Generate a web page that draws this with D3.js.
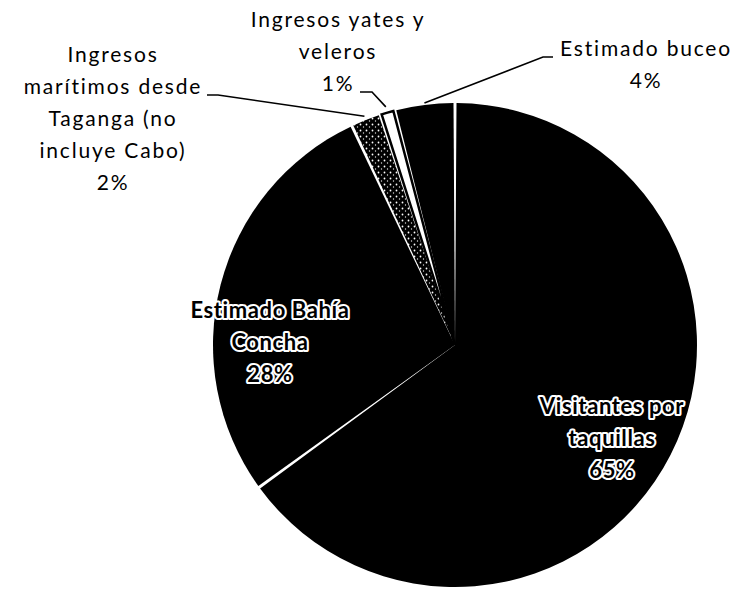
<!DOCTYPE html>
<html><head><meta charset="utf-8">
<script src="https://cdn.jsdelivr.net/npm/d3@7"></script>
<style>body{margin:0;background:#fff}svg{display:block}</style>
</head><body>
<svg id="c" width="749" height="589"></svg>
<script>
const categories = ["Visitantes por taquillas", "Estimado Bahía Concha", "Ingresos marítimos desde Taganga (no incluye Cabo)", "Ingresos yates y veleros", "Estimado buceo"];
const values = [65, 28, 2, 1, 4];
const percentLabels = ["65%", "28%", "2%", "1%", "4%"];
const labelLines = [
  ["Visitantes por", "taquillas", "65%"],
  ["Estimado Bahía", "Concha", "28%"],
  ["Ingresos", "marítimos desde", "Taganga (no", "incluye Cabo)", "2%"],
  ["Ingresos yates y", "veleros", "1%"],
  ["Estimado buceo", "4%"]
];

const svg = d3.select("#c");
const cx = 455, cy = 345, R = 242;
const g = svg.append("g").attr("transform", `translate(${cx},${cy})`);

const defs = svg.append("defs");
const pat = defs.append("pattern").attr("id", "dots").attr("patternUnits", "userSpaceOnUse")
  .attr("width", 6).attr("height", 6);
pat.append("rect").attr("width", 6).attr("height", 6).attr("fill", "#000");
pat.append("circle").attr("cx", 1.5).attr("cy", 1.5).attr("r", 0.9).attr("fill", "#fff");
pat.append("circle").attr("cx", 4.5).attr("cy", 4).attr("r", 0.7).attr("fill", "#ddd");

const pie = d3.pie().sort(null).value(d => d);
const arcs = pie(values);
const arc = d3.arc().innerRadius(0).outerRadius(R).padAngle(3 / R).padRadius(R);
const fills = ["#000", "#000", "url(#dots)", "#fff", "#000"];

g.selectAll("path.slice").data(arcs).join("path")
  .attr("class", "slice")
  .attr("d", arc)
  .attr("fill", (d, i) => fills[i])
  .attr("stroke", (d, i) => i === 3 ? "#000" : "none")
  .attr("stroke-width", 2.5);

const font = "Lato, 'Open Sans', sans-serif";
const layout = [
  { x: 612, y: 408, inside: true },
  { x: 270, y: 312, inside: true },
  { x: 113, y: 57, inside: false },
  { x: 338, y: 22, inside: false },
  { x: 646, y: 51, inside: false }
];
const lh = 32;

labelLines.forEach((lines, i) => {
  const L = layout[i];
  const t = svg.append("text")
    .attr("text-anchor", "middle")
    .attr("font-family", font)
    .attr("dominant-baseline", "middle");
  if (L.inside) {
    t.attr("fill", "#000").attr("stroke", "#fff").attr("stroke-width", 4.2)
      .attr("stroke-linejoin", "round")
      .attr("paint-order", "stroke").attr("font-weight", "bold")
      .attr("font-size", 22).attr("letter-spacing", 0.6);
  } else {
    t.attr("fill", "#000").attr("font-size", 21).attr("letter-spacing", 1.8);
  }
  lines.forEach((ln, k) => {
    t.append("tspan").attr("x", L.x).attr("y", L.y + k * lh).text(ln);
  });
});

function edgePt(d, r) {
  const a = (d.startAngle + d.endAngle) / 2;
  return [cx + r * Math.sin(a), cy - r * Math.cos(a)];
}
const leaders = [
  { i: 2, pts: [[207, 95], [218, 95]], r: 246 },
  { i: 3, pts: [[360, 92], [372, 92]], r: 248 },
  { i: 4, pts: [[553, 57], [543, 57]], r: 244 }
];
leaders.forEach(Ld => {
  const p = Ld.pts.concat([edgePt(arcs[Ld.i], Ld.r)]);
  svg.append("path").attr("d", d3.line()(p)).attr("fill", "none")
    .attr("stroke", "#000").attr("stroke-width", 1.6);
});
</script>
</body></html>
